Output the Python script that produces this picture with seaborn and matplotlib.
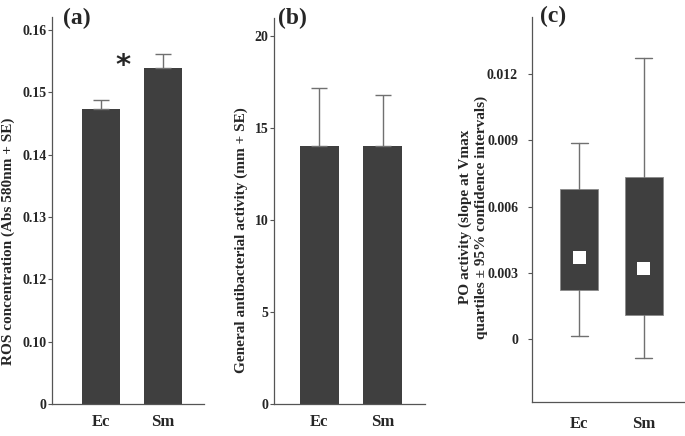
import numpy as np
import matplotlib
matplotlib.use("Agg")
import matplotlib.pyplot as plt
import seaborn as sns

# ---- data ----
groups = ["Ec", "Sm"]

# (a) ROS concentration, mean + SE
ros_mean = [0.1473, 0.1539]
ros_se = [0.0015, 0.0022]
ros_ticks = [0.10, 0.11, 0.12, 0.13, 0.14, 0.15, 0.16]
ros_ticklabels = ["0", "0.10", "0.12", "0.13", "0.14", "0.15", "0.16"]

# (b) antibacterial activity, mean + SE
anti_mean = [14.05, 14.02]
anti_se = [3.15, 2.80]
anti_ticks = [0, 5, 10, 15, 20]

# (c) PO activity, quartiles + 95% CI
po_median = [0.00368, 0.00321]
po_q1 = [0.00223, 0.00109]
po_q3 = [0.00682, 0.00735]
po_low = [0.00014, -0.00088]
po_high = [0.00890, 0.01276]
po_ticks = [0, 0.003, 0.006, 0.009, 0.012]
po_ticklabels = ["0", "0.003", "0.006", "0.009", "0.012"]

BAR = "#3f3f3f"
ERR = "#707070"
SPINE = "#555555"

sns.set_style("ticks")
plt.rcParams["font.family"] = ["Liberation Serif", "DejaVu Serif"]
plt.rcParams["font.weight"] = "bold"
plt.rcParams["axes.labelweight"] = "bold"

fig = plt.figure(figsize=(6.85, 4.36), dpi=100)
ax_a = fig.add_axes([52 / 685, 32 / 436, 152 / 685, 387 / 436])
ax_b = fig.add_axes([274 / 685, 32 / 436, 151 / 685, 386 / 436])
ax_c = fig.add_axes([532 / 685, 34 / 436, 153 / 685, 385 / 436])


def style_axis(ax):
    sns.despine(ax=ax)
    for s in ("left", "bottom"):
        ax.spines[s].set_color(SPINE)
        ax.spines[s].set_linewidth(0.9)
    ax.tick_params(axis="y", direction="out", length=3, width=0.8,
                   color=SPINE, labelsize=10, pad=1)
    ax.tick_params(axis="x", length=0, labelsize=12, pad=7)
    ax.set_xlabel("")


def bar_panel(ax, means, se):
    sns.barplot(x=groups, y=means, color=BAR, saturation=1, width=0.61,
                edgecolor="none", ax=ax)
    ax.errorbar(range(len(groups)), means, yerr=[np.zeros(len(se)), se],
                fmt="none", ecolor=ERR, elinewidth=1, capsize=6.1,
                capthick=1, zorder=1)
    style_axis(ax)


# (a)
bar_panel(ax_a, ros_mean, ros_se)
ax_a.set_ylim(0.10, 0.1621)
ax_a.set_xlim(-0.79, 1.66)
ax_a.set_yticks(ros_ticks, ros_ticklabels)
ax_a.set_ylabel("ROS concentration (Abs 580nm + SE)", fontsize=11, va="center")
ax_a.yaxis.set_label_coords(-0.29, 0.42)
ax_a.text(0.355, 0.1542, "*", fontsize=21, fontweight="bold",
          family="DejaVu Sans", ha="center", va="center")

# (b)
bar_panel(ax_b, anti_mean, anti_se)
ax_b.set_ylim(0, 21)
ax_b.set_xlim(-0.72, 1.67)
ax_b.set_yticks(anti_ticks)
ax_b.set_ylabel("General antibacterial activity (mm + SE)", fontsize=11, va="center")
ax_b.yaxis.set_label_coords(-0.22, 0.425)

# (c)
stats = [dict(med=m, q1=a, q3=b, whislo=lo, whishi=hi, label=g)
         for g, m, a, b, lo, hi in zip(groups, po_median, po_q1, po_q3,
                                       po_low, po_high)]
ax_c.bxp(stats, positions=[0, 1], widths=0.59, patch_artist=True,
         showfliers=False, capwidths=0.26,
         boxprops=dict(facecolor=BAR, edgecolor="#8a8a8a", linewidth=0.6),
         whiskerprops=dict(color=ERR, linewidth=1),
         capprops=dict(color=ERR, linewidth=1),
         medianprops=dict(linewidth=0))
ax_c.scatter([0, 1], po_median, marker="s", s=85, color="white",
             edgecolor="none", zorder=3)
style_axis(ax_c)
ax_c.tick_params(axis="y", pad=7)
ax_c.tick_params(axis="x", pad=10)
ax_c.set_xticks([0, 1], groups)
ax_c.set_xlim(-0.736, 1.64)
ax_c.set_ylim(-0.00286, 0.0146)
ax_c.set_yticks(po_ticks, po_ticklabels)
ax_c.set_ylabel("PO activity (slope at Vmax\nquartiles ± 95% confidence intervals)",
                fontsize=11, va="center", linespacing=1.25)
ax_c.yaxis.set_label_coords(-0.386, 0.48)

# panel letters
for x, y, s in [(63, 18, "(a)"), (278, 18, "(b)"), (540, 16, "(c)")]:
    fig.text(x / 685, 1 - y / 436, s, fontsize=17, fontweight="bold",
             ha="left", va="center")

fig.savefig("out.png", dpi=100)
